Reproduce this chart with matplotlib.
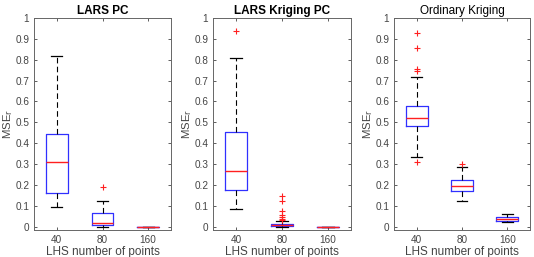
import matplotlib.pyplot as plt
import numpy as np

plt.rcParams['font.family'] = ['Liberation Sans', 'DejaVu Sans']

titles = ['LARS PC', 'LARS Kriging PC', 'Ordinary Kriging']
title_weights = ['bold', 'bold', 'normal']
sizes = ['40', '80', '160']

# box statistics per panel, per sample size
whislo = [[0.093, 0.0, 0.0], [0.084, 0.0, 0.0], [0.336, 0.124, 0.021]]
q1 = [[0.161, 0.006, 0.0], [0.177, 0.002, 0.0], [0.482, 0.170, 0.029]]
med = [[0.309, 0.016, 0.0], [0.268, 0.006, 0.0], [0.523, 0.196, 0.036]]
q3 = [[0.445, 0.064, 0.0], [0.455, 0.014, 0.0], [0.579, 0.222, 0.045]]
whishi = [[0.817, 0.124, 0.0], [0.807, 0.028, 0.0], [0.715, 0.285, 0.063]]
fliers = [
    [[], [0.188], []],
    [[0.937], [0.145, 0.124, 0.076, 0.056, 0.045, 0.038, 0.033], []],
    [[0.928, 0.855, 0.756, 0.748, 0.309], [0.302], []],
]

fig = plt.figure(figsize=(5.34, 2.57), dpi=100)
lefts = [34, 213, 394]
widths = [137, 138, 136]

for i in range(3):
    ax = fig.add_axes([lefts[i] / 534, 27 / 257, widths[i] / 534, 212 / 257])
    stats = []
    for j in range(3):
        stats.append(dict(whislo=whislo[i][j], q1=q1[i][j], med=med[i][j],
                          q3=q3[i][j], whishi=whishi[i][j], fliers=fliers[i][j]))
    ax.bxp(stats, positions=[1, 2, 3], widths=0.48, capwidths=0.24,
           boxprops=dict(color='#3030ff', linewidth=0.9),
           medianprops=dict(color='#ff2020', linewidth=1.0, zorder=4),
           whiskerprops=dict(color='black', linewidth=0.8, linestyle=(0, (5, 3))),
           capprops=dict(color='black', linewidth=0.9),
           flierprops=dict(marker='+', markeredgecolor='#ff2020', markersize=5,
                           markeredgewidth=0.8, linestyle='none'))
    ax.set_xlim(0.5, 3.5)
    ax.set_ylim(-0.016, 1)
    ax.set_xticks([1, 2, 3])
    ax.set_xticklabels(sizes)
    yt = np.round(np.arange(0, 1.01, 0.1), 1)
    ax.set_yticks(yt)
    ax.set_yticklabels(['0'] + ['%.1f' % v for v in yt[1:-1]] + ['1'])
    ax.tick_params(direction='in', length=2.5, width=0.6, top=True, right=True,
                   labelsize=7.2, colors='#444444')
    ax.tick_params(axis='y', pad=3.5)
    ax.tick_params(axis='x', pad=3.5)
    for s in ax.spines.values():
        s.set_color('#666666')
        s.set_linewidth(0.7)
    ax.set_xlabel('LHS number of points', fontsize=8.5, color='#444444', labelpad=1)
    ax.set_ylabel(r'MSE$_\mathrm{r}$', fontsize=8.2, color='#444444')
    ax.yaxis.set_label_coords(-19 / widths[i], 0.5)
    ax.set_title(titles[i], fontsize=8.5, fontweight=title_weights[i], pad=3)

fig.savefig('out.png', dpi=100)
